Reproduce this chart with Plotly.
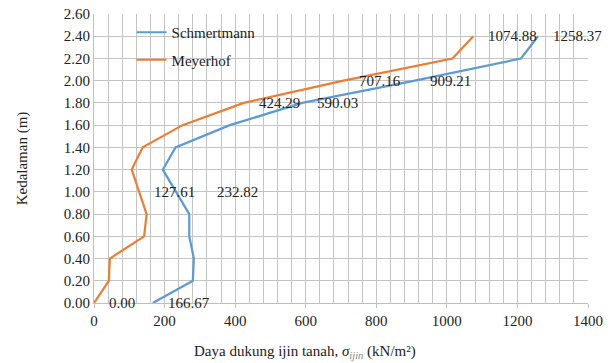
import plotly.graph_objects as go

depth = [0.0, 0.2, 0.4, 0.6, 0.8, 1.0, 1.2, 1.4, 1.6, 1.8, 2.0, 2.2, 2.4]
schmertmann = [166.67, 280, 283, 270, 270, 232.82, 195, 231, 385, 590.03, 909.21, 1210, 1258.37]
meyerhof = [0.00, 42, 45, 142, 149, 127.61, 107, 138, 251, 424.29, 707.16, 1016, 1074.88]
label_depths = [0.0, 1.0, 1.8, 2.0, 2.4]

x_ticks = [0, 200, 400, 600, 800, 1000, 1200, 1400]
x_minor = list(range(0, 1401, 40))
y_ticks = [round(0.2 * i, 2) for i in range(14)]

FONT = "Liberation Serif, Times New Roman, serif"
BLUE = "#5b9bd5"
ORANGE = "#ed7d31"
GRID = "#c4c4c4"

fig = go.Figure()
fig.add_trace(go.Scatter(x=schmertmann, y=depth, mode="lines", name="Schmertmann",
                         legendgroup="a", line=dict(color=BLUE, width=2.2)))
fig.add_trace(go.Scatter(x=meyerhof, y=depth, mode="lines", name="Meyerhof",
                         legendgroup="b", line=dict(color=ORANGE, width=2.2)))

annotations = []
for series in (meyerhof, schmertmann):
    for d, v in zip(depth, series):
        if d in label_depths:
            shift = 13
            if series is schmertmann and d == 1.0:
                shift = 39
            annotations.append(dict(x=v, y=d, xref="x", yref="y", text=f"{v:.2f}",
                                    showarrow=False, xanchor="left", yanchor="middle",
                                    xshift=shift, font=dict(family=FONT, size=15, color="#222")))

annotations.append(dict(x=(305 - 94) / 494, y=-0.17, xref="paper", yref="paper",
                        text="Daya dukung ijin tanah, <i>σ</i><sub><i><span style='color:#888'>ijin</span></i></sub> (kN/m²)",
                        showarrow=False, xanchor="center", yanchor="middle",
                        font=dict(family=FONT, size=15, color="#222")))

fig.update_layout(
    template="none",
    width=610, height=363,
    margin=dict(l=94, r=22, t=14, b=60),
    paper_bgcolor="white", plot_bgcolor="white",
    font=dict(family=FONT, size=15, color="#222"),
    showlegend=True,
    legend=dict(x=0.076, y=0.993, xanchor="left", yanchor="top", bgcolor="rgba(0,0,0,0)",
                font=dict(family=FONT, size=15, color="#222"), tracegroupgap=5,
                traceorder="grouped", itemwidth=30),
    annotations=annotations,
)
fig.update_xaxes(range=[0, 1400], tickmode="array", tickvals=x_ticks, ticktext=[str(t) for t in x_ticks],
                 showgrid=True, gridcolor=GRID, gridwidth=1,
                 minor=dict(tickmode="array", tickvals=x_minor, showgrid=True, gridcolor=GRID, gridwidth=1),
                 showline=True, linecolor="#bfbfbf", linewidth=1,
                 ticks="outside", ticklen=4, tickcolor="#bfbfbf",
                 zeroline=False, mirror=False, tickfont=dict(family=FONT, size=15))
fig.update_yaxes(range=[0, 2.6], tickmode="array", tickvals=y_ticks, ticktext=[f"{t:.2f}" for t in y_ticks],
                 showgrid=True, gridcolor=GRID, gridwidth=1,
                 showline=True, linecolor="#bfbfbf", linewidth=1,
                 zeroline=False, ticks="", tickfont=dict(family=FONT, size=15),
                 title=dict(text="Kedalaman (m)", font=dict(family=FONT, size=15), standoff=32))

fig.write_html("out.html")
